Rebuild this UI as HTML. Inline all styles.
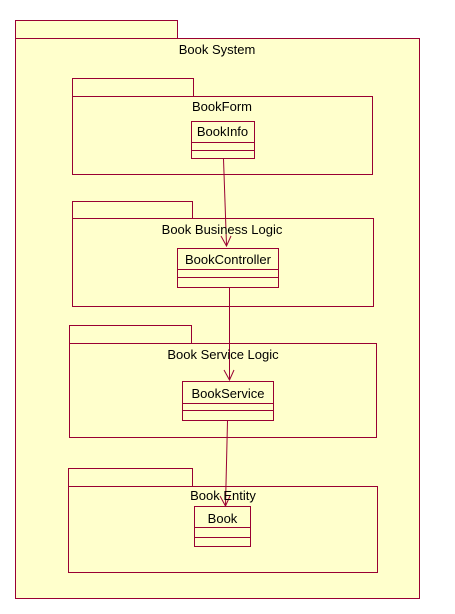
<!DOCTYPE html>
<html><head><meta charset="utf-8"><style>
html,body{margin:0;padding:0;background:#fff;width:455px;height:614px;overflow:hidden}
text{font-family:"Liberation Sans",sans-serif;font-size:13px;fill:#000}
</style></head><body>
<svg width="455" height="614" xmlns="http://www.w3.org/2000/svg">
<g fill="#FFFFCC" stroke="#990033" stroke-width="1" shape-rendering="crispEdges">
<rect x="15.5" y="20.5" width="162" height="18"/>
<rect x="15.5" y="38.5" width="404" height="560"/>
<rect x="72.5" y="78.5" width="121" height="18"/>
<rect x="72.5" y="96.5" width="300" height="78"/>
<rect x="72.5" y="201.5" width="120" height="17"/>
<rect x="72.5" y="218.5" width="301" height="88"/>
<rect x="69.5" y="325.5" width="122" height="18"/>
<rect x="69.5" y="343.5" width="307" height="94"/>
<rect x="68.5" y="468.5" width="124" height="18"/>
<rect x="68.5" y="486.5" width="309" height="86"/>
<rect x="191.5" y="121.5" width="63" height="37"/>
<line x1="191" y1="142.5" x2="254" y2="142.5"/><line x1="191" y1="150.5" x2="254" y2="150.5"/>
<rect x="177.5" y="248.5" width="101" height="39"/>
<line x1="177" y1="269.5" x2="278" y2="269.5"/><line x1="177" y1="277.5" x2="278" y2="277.5"/>
<rect x="182.5" y="381.5" width="91" height="39"/>
<line x1="182" y1="403.5" x2="273" y2="403.5"/><line x1="182" y1="410.5" x2="273" y2="410.5"/>
<rect x="194.5" y="506.5" width="56" height="40"/>
<line x1="194" y1="527.5" x2="250" y2="527.5"/><line x1="194" y1="537.5" x2="250" y2="537.5"/>
</g>
<g fill="none" stroke="#990033" stroke-width="1">
<polyline points="223.5,159 226.5,245"/>
<polyline points="221,236 226.5,246 231,236"/>
<polyline points="229.5,288 229.5,379"/>
<polyline points="224,370 229.5,380 234,370"/>
<polyline points="227.5,421 225.5,505"/>
<polyline points="220,496 225.5,506 230,496"/>
</g>
<text x="217" y="54" text-anchor="middle">Book System</text>
<text x="222" y="111" text-anchor="middle">BookForm</text>
<text x="222.5" y="136" text-anchor="middle">BookInfo</text>
<text x="222" y="234" text-anchor="middle">Book Business Logic</text>
<text x="228" y="264" text-anchor="middle">BookController</text>
<text x="223" y="359" text-anchor="middle">Book Service Logic</text>
<text x="228" y="398" text-anchor="middle">BookService</text>
<text x="223" y="500" text-anchor="middle">Book Entity</text>
<text x="222.5" y="523" text-anchor="middle">Book</text>
</svg>
</body></html>
